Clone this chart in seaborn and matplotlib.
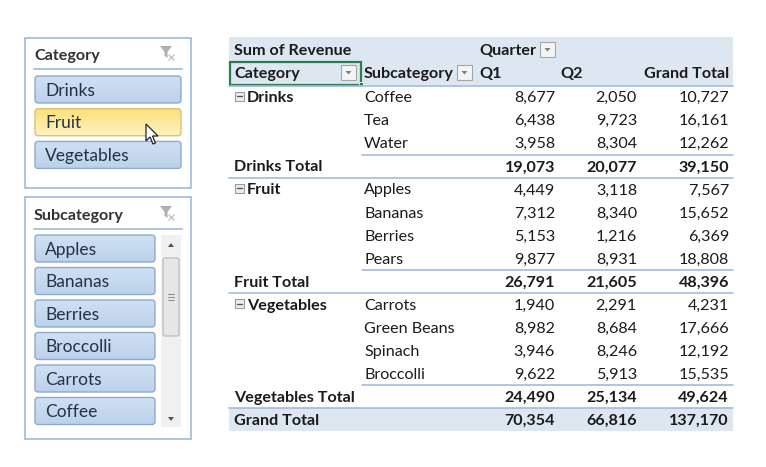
import numpy as np
import pandas as pd
import seaborn as sns
from matplotlib import pyplot as plt
from matplotlib.patches import Rectangle, FancyBboxPatch, Polygon
from matplotlib.colors import LinearSegmentedColormap

sns.set_style("white")
plt.rcParams['font.family'] = ['Lato', 'DejaVu Sans']

# pivot data
categories = ["Drinks", "Fruit", "Vegetables"]
subcategories = [["Coffee", "Tea", "Water"],
                 ["Apples", "Bananas", "Berries", "Pears"],
                 ["Carrots", "Green Beans", "Spinach", "Broccolli"]]
q1 = [[8677, 6438, 3958],
      [4449, 7312, 5153, 9877],
      [1940, 8982, 3946, 9622]]
q2 = [[2050, 9723, 8304],
      [3118, 8340, 1216, 8931],
      [2291, 8684, 8246, 5913]]
quarters = ["Q1", "Q2"]

# slicer items
cat_items = ["Drinks", "Fruit", "Vegetables"]
cat_selected = "Fruit"
sub_items = ["Apples", "Bananas", "Berries", "Broccolli", "Carrots", "Coffee"]

rows = []
for c, subs, a, b in zip(categories, subcategories, q1, q2):
    for i, (s, v1, v2) in enumerate(zip(subs, a, b)):
        rows.append(dict(kind="item", label=c if i == 0 else "", sub=s, Q1=v1, Q2=v2))
    rows.append(dict(kind="total", label=c + " Total", sub="", Q1=sum(a), Q2=sum(b)))
df = pd.DataFrame(rows)
df["Grand Total"] = df["Q1"] + df["Q2"]
grand = df[df.kind == "total"][["Q1", "Q2", "Grand Total"]].sum()

fig = plt.figure(figsize=(7.66, 4.67), dpi=100)
ax = fig.add_axes([0, 0, 1, 1])
ax.set_xlim(0, 766)
ax.set_ylim(467, 0)
ax.axis('off')

TXT = '#1b1b1b'
LINE = '#9fbcdc'
HEAD = '#dde7f2'
FS = 11.6
DY = 1.2  # small baseline nudge so text sits in the middle of the row

def dropdown(x, y):
    ax.add_patch(Rectangle((x, y), 15, 15, facecolor='#f4f4f4', edgecolor='#a6a6a6', lw=0.8))
    ax.add_patch(Polygon([[x + 4.5, y + 6], [x + 10.5, y + 6], [x + 7.5, y + 9.5]],
                         closed=True, facecolor='#7f7f7f', edgecolor='none'))

def minus_box(x, y):
    ax.add_patch(Rectangle((x, y - 4.5), 9, 9, facecolor='#eeeeee', edgecolor='#9a9a9a', lw=0.8))
    ax.plot([x + 2, x + 7], [y, y], color='#555555', lw=1)

def funnel(x, y):
    ax.add_patch(Polygon([[x, y], [x + 12, y], [x + 7.5, y + 6], [x + 7.5, y + 12], [x + 4.5, y + 10], [x + 4.5, y + 6]],
                         closed=True, facecolor='#b0b0b0', edgecolor='none'))
    ax.plot([x + 9, x + 14], [y + 9, y + 14], color='#c0c0c0', lw=1)
    ax.plot([x + 9, x + 14], [y + 14, y + 9], color='#c0c0c0', lw=1)

def txt(x, y, s, bold=False, ha='left', size=FS, color=TXT):
    ax.text(x, y + DY, s, fontsize=size, fontweight='bold' if bold else 'normal',
            color=color, va='center', ha=ha, zorder=5)

# ---------- pivot table ----------
X0, X1 = 229, 733
col_cat, col_sub = 234, 364
col_right = {"Q1": 555, "Q2": 637, "Grand Total": 729}
ax.add_patch(Rectangle((X0, 37), X1 - X0, 48, facecolor=HEAD, edgecolor='none'))
txt(col_cat, 50, "Sum of Revenue", bold=True)
txt(479, 50, "Quarter", bold=True)
dropdown(540, 42)
ax.add_patch(Rectangle((X0 + 1, 62), 131, 23, facecolor='none', edgecolor='#2e7d4f', lw=1.6))
ax.add_patch(Rectangle((359, 82), 4, 4, facecolor='#2e7d4f', edgecolor='white', lw=0.6))
txt(col_cat, 73, "Category", bold=True)
dropdown(341, 65)
txt(col_sub, 73, "Subcategory", bold=True)
dropdown(457, 65)
txt(479, 73, quarters[0], bold=True)
txt(560, 73, quarters[1], bold=True)
txt(col_right["Grand Total"], 73, "Grand Total", bold=True, ha='right')
ax.plot([X0, X1], [85.5, 85.5], color=LINE, lw=1.2)

y0, step = 97, 23.07
for i, r in df.iterrows():
    y = y0 + i * step
    if r["kind"] == "item":
        if r["label"]:
            minus_box(col_cat + 1, y - 1)
            txt(col_cat + 13, y, r["label"], bold=True)
        txt(col_sub, y, r["sub"])
        for k, xr in col_right.items():
            txt(xr, y, f"{r[k]:,}", ha='right')
    else:
        ax.plot([362, X1], [y - 11.5, y - 11.5], color=LINE, lw=1.2)
        ax.plot([X0, X1], [y + 11.5, y + 11.5], color=LINE, lw=1.2)
        txt(col_cat, y, r["label"], bold=True)
        for k, xr in col_right.items():
            txt(xr, y, f"{r[k]:,}", bold=True, ha='right')

yg = y0 + len(df) * step
ax.add_patch(Rectangle((X0, yg - 11.5), X1 - X0, 23, facecolor=HEAD, edgecolor='none'))
txt(col_cat, yg, "Grand Total", bold=True)
for k, xr in col_right.items():
    txt(xr, yg, f"{int(grand[k]):,}", bold=True, ha='right')

# ---------- slicers ----------
SL_EDGE = '#9dbbd8'
BTN_EDGE = '#8eaacb'
SL_TXT = '#22324a'
blue_grad = LinearSegmentedColormap.from_list("b", ['#cfe0f3', '#bcd2ec'])
gold_grad = LinearSegmentedColormap.from_list("g", ['#fbe07a', '#fff3c4'])

def button(x, y, w, label, cmap=blue_grad, edge=BTN_EDGE):
    patch = FancyBboxPatch((x, y), w, 27, boxstyle="round,pad=0,rounding_size=3",
                           facecolor='none', edgecolor=edge, lw=1, zorder=3)
    ax.add_patch(patch)
    im = ax.imshow(np.linspace(0, 1, 32).reshape(-1, 1), cmap=cmap, aspect='auto',
                   extent=(x, x + w, y + 27, y), zorder=2, interpolation='bilinear')
    im.set_clip_path(patch)
    txt(x + 10, y + 13.5, label, size=12.5, color=SL_TXT)

# category slicer
ax.add_patch(Rectangle((25, 38), 166, 150, facecolor='white', edgecolor=SL_EDGE, lw=1.2))
txt(34, 55, "Category", bold=True, color='#333333')
funnel(160, 46)
ax.plot([34, 182], [69, 69], color=SL_EDGE, lw=1.2)
for j, item in enumerate(cat_items):
    if item == cat_selected:
        button(35, 76 + j * 32.7, 146, item, cmap=gold_grad, edge='#d9c27a')
    else:
        button(35, 76 + j * 32.7, 146, item)

# mouse cursor over the hovered item
cx, cy = 146, 124
ax.add_patch(Polygon([[cx, cy], [cx, cy + 17], [cx + 4, cy + 13], [cx + 7, cy + 20], [cx + 9.5, cy + 19],
                      [cx + 6.5, cy + 12], [cx + 12, cy + 12]], closed=True,
                     facecolor='white', edgecolor='#222222', lw=0.9, zorder=6))

# subcategory slicer
ax.add_patch(Rectangle((25, 197), 166, 242, facecolor='white', edgecolor=SL_EDGE, lw=1.2))
txt(34, 215, "Subcategory", bold=True, color='#333333')
funnel(160, 206)
ax.plot([34, 182], [228.5, 228.5], color=SL_EDGE, lw=1.2)
for j, item in enumerate(sub_items):
    button(35, 235 + j * 32.5, 120, item)

# scrollbar
ax.add_patch(Rectangle((161, 235), 20, 192, facecolor='#f0f0f0', edgecolor='none'))
ax.add_patch(FancyBboxPatch((163, 258), 16, 78, boxstyle="round,pad=0,rounding_size=2",
                            facecolor='#e6e6e6', edgecolor='#b8b8b8', lw=0.8))
for dy in (-3, 0, 3):
    ax.plot([168, 174], [297 + dy, 297 + dy], color='#8c8c8c', lw=0.7)
ax.add_patch(Polygon([[168, 247], [174, 247], [171, 243]], closed=True, facecolor='#555555', edgecolor='none'))
ax.add_patch(Polygon([[168, 417], [174, 417], [171, 421]], closed=True, facecolor='#555555', edgecolor='none'))

ax.set_xlim(0, 766)
ax.set_ylim(467, 0)
fig.savefig("out.png", dpi=100, facecolor='white')
